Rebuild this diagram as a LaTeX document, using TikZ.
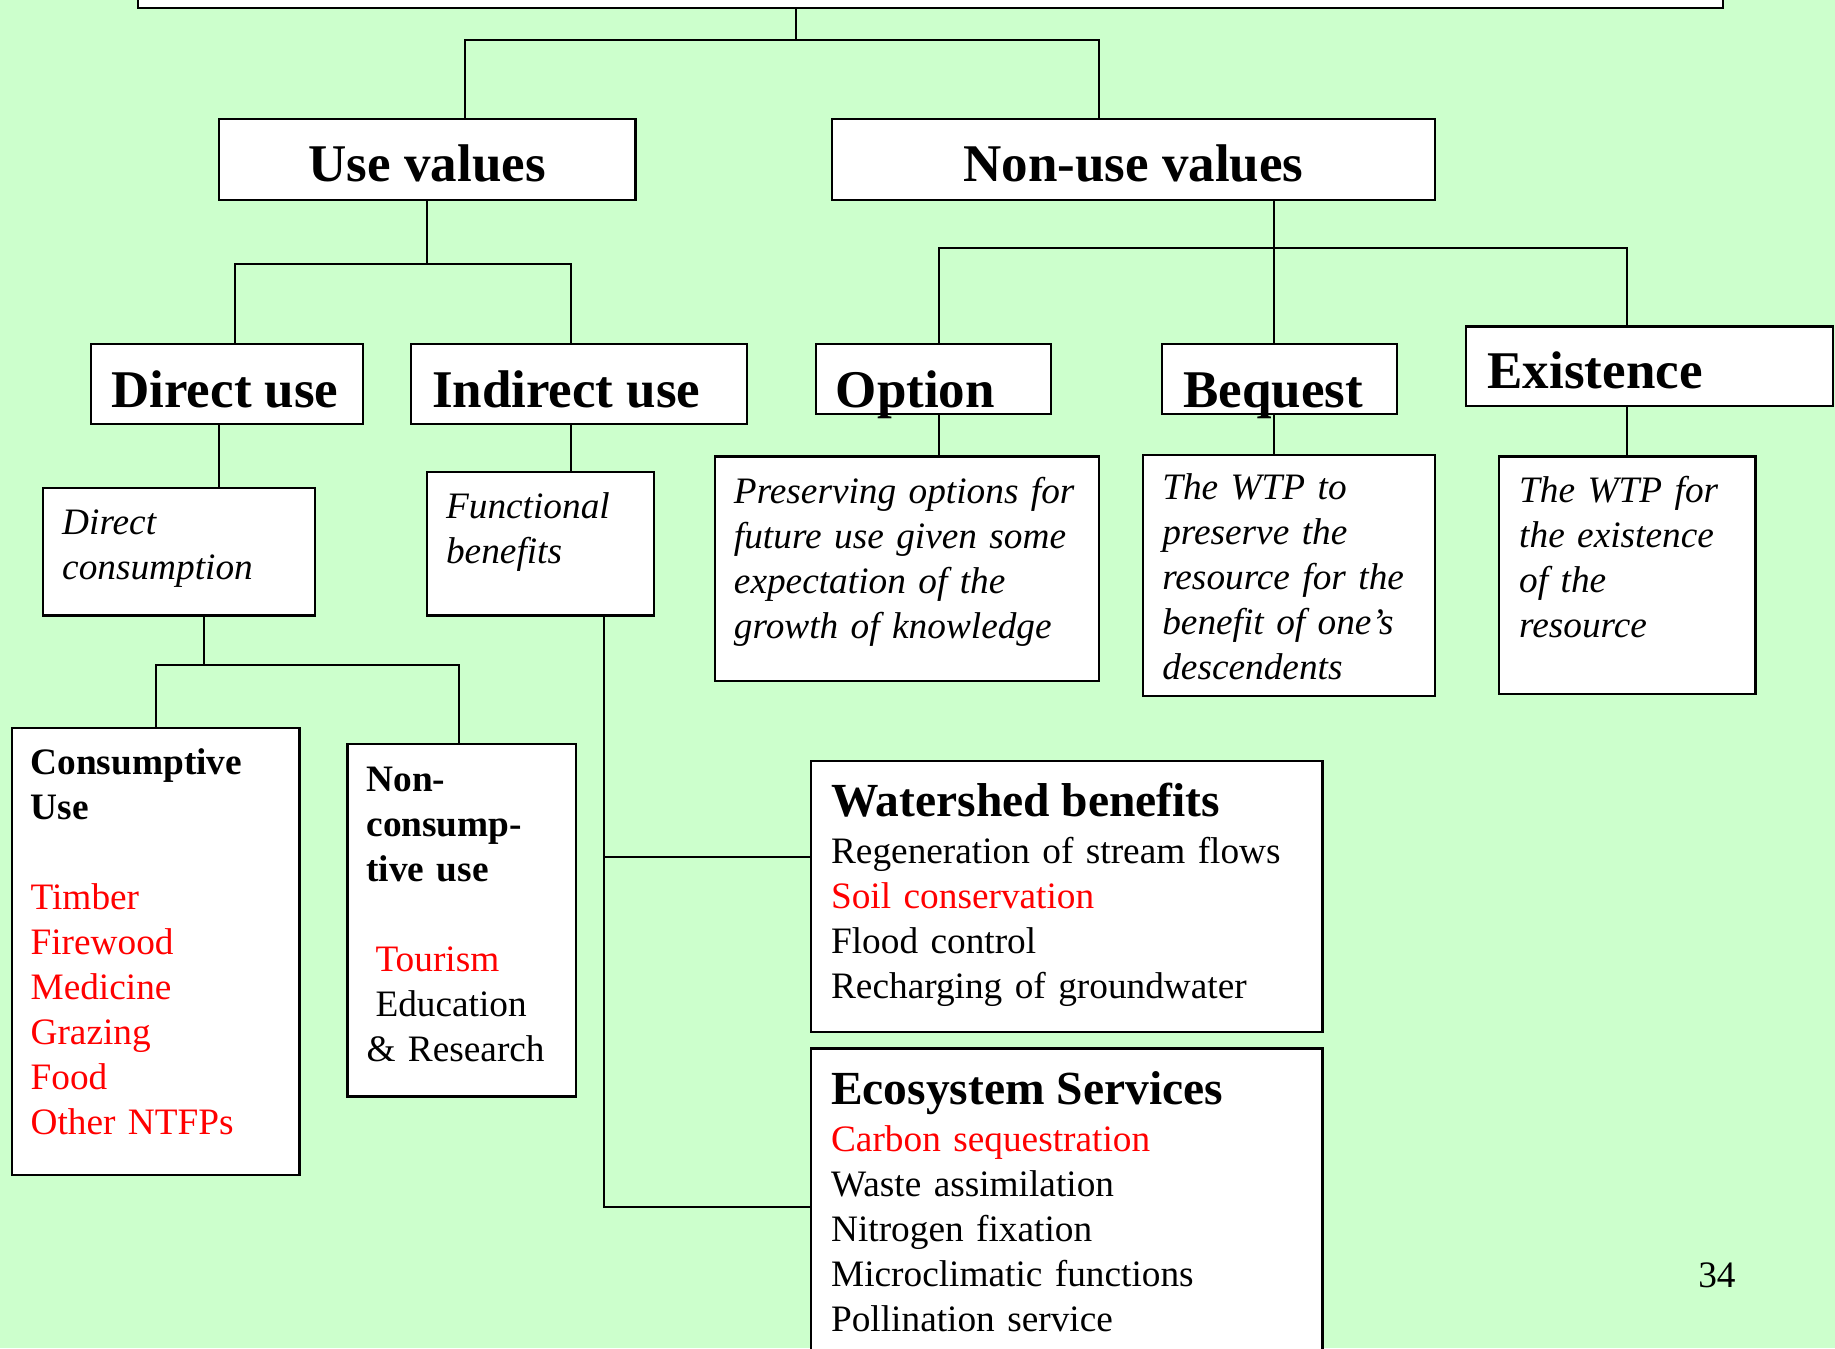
\documentclass[tikz,border=0pt]{standalone}
\usepackage{fontspec}
\setmainfont{Liberation Serif}
\usetikzlibrary{fit}
\definecolor{bg}{HTML}{CCFFCC}
\definecolor{redtxt}{HTML}{FF0000}
\begin{document}
\begin{tikzpicture}[x=1.17028pt, y=-1.17028pt,
  box/.style={draw, fill=white, line width=2.2pt, inner sep=0pt},
  conn/.style={line width=2pt},
  hdr/.style={font=\fontsize{53}{60}\selectfont\bfseries, inner sep=0pt, anchor=base west},
  ttl/.style={font=\fontsize{47.5}{54}\selectfont\bfseries, inner sep=0pt, anchor=base west},
  body/.style={font=\fontsize{37.3}{45}\selectfont, inner sep=0pt, anchor=base west, align=left},
  ital/.style={body, font=\fontsize{37.3}{45}\selectfont\itshape},
]
\useasboundingbox (0,0) rectangle (1568,1152);
\clip (0,0) rectangle (1568,1152);
\fill[bg] (0,0) rectangle (1568,1152);

% boxes
\node[box, fit={(118,-40) (1472,7)}] (topbox) {};
\node[box, fit={(187,102) (543,171)}] (usev) {};
\node[box, fit={(711,102) (1226,171)}] (nonuse) {};
\node[box, fit={(78,294) (310,362)}] (direct) {};
\node[box, fit={(351,294) (638,362)}] (indirect) {};
\node[box, fit={(697,294) (898,354)}] (option) {};
\node[box, fit={(993,294) (1194,354)}] (bequest) {};
\node[box, fit={(1253,279) (1566,347)}] (existence) {};
\node[box, fit={(37,417) (269,526)}] (dcons) {};
\node[box, fit={(365,403) (559,526)}] (func) {};
\node[box, fit={(611,390) (939,582)}] (optdesc) {};
\node[box, fit={(977,389) (1226,595)}] (beqdesc) {};
\node[box, fit={(1281,390) (1500,593)}] (exdesc) {};
\node[box, fit={(10,622) (256,1004)}] (consum) {};
\node[box, fit={(297,636) (492,937)}] (noncons) {};
\node[box, fit={(693,650) (1130,882)}] (water) {};
\node[box, fit={(693,896) (1130,1190)}] (eco) {};

% junction coordinates
\coordinate (j0) at (680,34);
\coordinate (jL) at (397,34);
\coordinate (jR) at (939,34);
\coordinate (k0) at (365,226);
\coordinate (kL) at (201,226);
\coordinate (kR) at (488,226);
\coordinate (m0) at (1089,212);
\coordinate (mL) at (802,212);
\coordinate (mR) at (1390,212);
\coordinate (xd) at (187,0);
\coordinate (d0) at (174,568);
\coordinate (dL) at (133,568);
\coordinate (dR) at (392,568);
\coordinate (fa) at (516,732);
\coordinate (fb) at (516,1031);

% connectors
\draw[conn] (topbox.south -| j0) -- (j0);
\draw[conn] (usev.north -| jL) -- (jL) -- (jR) -- (nonuse.north -| jR);
\draw[conn] (usev.south -| k0) -- (k0);
\draw[conn] (direct.north -| kL) -- (kL) -- (kR) -- (indirect.north -| kR);
\draw[conn] (nonuse.south -| m0) -- (bequest.north -| m0);
\draw[conn] (option.north -| mL) -- (mL) -- (mR) -- (existence.north -| mR);
\draw[conn] (direct.south -| xd) -- (dcons.north -| xd);
\draw[conn] (indirect.south -| kR) -- (func.north -| kR);
\draw[conn] (option.south -| mL) -- (optdesc.north -| mL);
\draw[conn] (bequest.south -| m0) -- (beqdesc.north -| m0);
\draw[conn] (existence.south -| mR) -- (exdesc.north -| mR);
\draw[conn] (dcons.south -| d0) -- (d0);
\draw[conn] (consum.north -| dL) -- (dL) -- (dR) -- (noncons.north -| dR);
\draw[conn] (func.south -| fa) -- (fb) -- (eco.west |- fb);
\draw[conn] (fa) -- (water.west |- fa);

% texts
\node[hdr, anchor=base] (tUse) at (365,155) {Use values};
\node[hdr, anchor=base] (tNon) at (968.5,155) {Non-use values};
\node[hdr] (tDir) at (95,348) {Direct use};
\node[hdr] (tInd) at (369,348) {Indirect use};
\node[hdr] (tOpt) at (714,348) {Option};
\node[hdr] (tBeq) at (1011,348) {Bequest};
\node[hdr] (tEx) at (1271,332) {Existence};

\node[ital, text width=220pt] (tDc) at (53,457) {Direct\\consumption};
\node[ital, text width=200pt] (tFb) at (381,443) {Functional\\benefits};
\node[ital, text width=370pt] (tOd) at (627,430) {Preserving options for\\future use given some\\expectation of the\\growth of knowledge};
\node[ital, text width=280pt] (tBd) at (993,427) {The WTP to\\preserve the\\resource for the\\benefit of one’s\\descendents};
\node[ital, text width=250pt] (tEd) at (1298,429) {The WTP for\\the existence\\of the\\resource};

\node[body, text width=280pt] (tCu) at (26,662) {\textbf{Consumptive}\\\textbf{Use}\\\mbox{}\\\color{redtxt}Timber\\Firewood\\Medicine\\Grazing\\Food\\Other NTFPs};
\node[body, text width=220pt] (tNc) at (313,676) {\textbf{Non-}\\\textbf{consump-}\\\textbf{tive use}\\\mbox{}\\\hspace*{9pt}{\color{redtxt}Tourism}\\\hspace*{9pt}Education\\\& Research};

\node[ttl] (tWt) at (710,698) {Watershed benefits};
\node[body, text width=500pt] (tWi) at (710,738) {Regeneration of stream flows\\{\color{redtxt}Soil conservation}\\Flood control\\Recharging of groundwater};
\node[ttl] (tEt) at (710,944) {Ecosystem Services};
\node[body, text width=500pt] (tEi) at (710,984) {{\color{redtxt}Carbon sequestration}\\Waste assimilation\\Nitrogen fixation\\Microclimatic functions\\Pollination service};
\node[body] (tPg) at (1451,1100) {34};
\end{tikzpicture}
\end{document}
